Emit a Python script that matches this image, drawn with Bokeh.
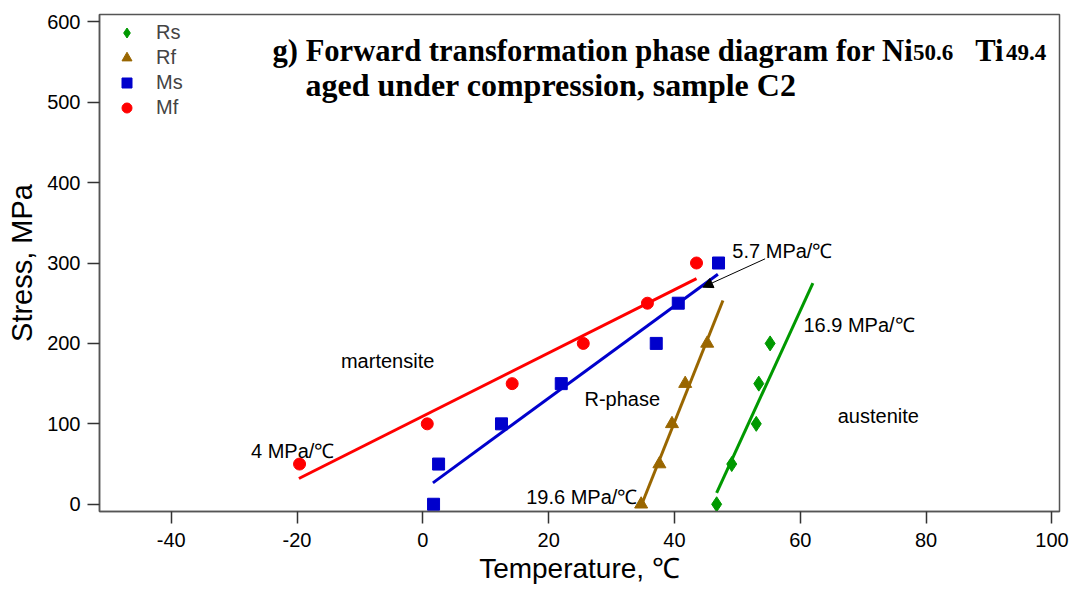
import math
from bokeh.plotting import figure
from bokeh.models import Range1d, Legend, LegendItem, Label, Arrow, NormalHead, FixedTicker
from bokeh.embed import file_html
from bokeh.resources import INLINE

# ---- data ----
rs_t = [46.7, 49.1, 53.0, 53.4, 55.2]
rs_s = [0, 50, 100, 150, 200]
rf_t = [34.7, 37.6, 39.6, 41.7, 45.2]
rf_s = [0, 50, 100, 150, 200]
ms_t = [1.7, 2.5, 12.5, 22.0, 37.1, 40.6, 47.0]
ms_s = [0, 50, 100, 150, 200, 250, 300]
mf_t = [-19.6, 0.7, 14.2, 25.5, 35.7, 43.5]
mf_s = [50, 100, 150, 200, 250, 300]

# linear fits (end points)
rs_fit_t = [46.7, 62.0]
rs_fit_s = [14.2, 274.9]
rf_fit_t = [34.8, 47.7]
rf_fit_s = [0.0, 253.4]
ms_fit_t = [1.6, 46.9]
ms_fit_s = [26.6, 286.0]
mf_fit_t = [-19.7, 43.5]
mf_fit_s = [32.0, 280.6]

x_ticks = [-40, -20, 0, 20, 40, 60, 80, 100]
y_ticks = [0, 100, 200, 300, 400, 500, 600]

GREEN = "#009900"
BROWN = "#996600"
BLUE = "#0000CC"
RED = "#FF0000"
SANS = "Liberation Sans"
SERIF = "Liberation Serif"

p = figure(width=1075, height=596, output_backend="svg", toolbar_location=None,
           x_range=Range1d(-51.4, 101.2), y_range=Range1d(-9, 609),
           min_border_left=99, min_border_right=16, min_border_top=14, min_border_bottom=85)
p.grid.visible = False
p.outline_line_color = "#555555"
p.outline_line_width = 1.5
p.background_fill_color = "white"
p.border_fill_color = "white"

for ax in (p.xaxis[0], p.yaxis[0]):
    ax.axis_line_color = "#555555"
    ax.axis_line_width = 1.5
    ax.major_tick_line_color = "#333333"
    ax.major_tick_line_width = 1.5
    ax.major_tick_in = 0
    ax.major_tick_out = 12
    ax.minor_tick_line_color = None
    ax.major_label_text_font = SANS
    ax.major_label_text_font_size = "20px"
    ax.major_label_text_color = "black"
    ax.axis_label_text_font = SANS
    ax.axis_label_text_font_style = "normal"
    ax.axis_label_text_color = "black"

p.xaxis.ticker = FixedTicker(ticks=x_ticks)
p.yaxis.ticker = FixedTicker(ticks=y_ticks)
p.xaxis.major_label_overrides = {t: str(t) for t in x_ticks}
p.xaxis.major_label_standoff = 9
p.yaxis.major_label_standoff = 7
p.xaxis.axis_label = "Temperature, \u2103"
p.yaxis.axis_label = "Stress, MPa"
p.xaxis.axis_label_text_font_size = "28px"
p.yaxis.axis_label_text_font_size = "29px"
p.xaxis.axis_label_standoff = 3
p.yaxis.axis_label_standoff = 6

# fit lines
p.line(mf_fit_t, mf_fit_s, line_color=RED, line_width=3)
p.line(ms_fit_t, ms_fit_s, line_color=BLUE, line_width=3)
p.line(rf_fit_t, rf_fit_s, line_color=BROWN, line_width=3)
p.line(rs_fit_t, rs_fit_s, line_color=GREEN, line_width=3)

# data points
r_rs = p.scatter(rs_t, rs_s, marker="diamond", size=15, fill_color=GREEN, line_color=GREEN)
r_rf = p.scatter(rf_t, rf_s, marker="triangle", size=13, fill_color=BROWN, line_color=BROWN)
r_ms = p.scatter(ms_t, ms_s, marker="square", size=12, fill_color=BLUE, line_color=BLUE)
r_mf = p.scatter(mf_t, mf_s, marker="circle", size=12, fill_color=RED, line_color=RED)

legend = Legend(items=[LegendItem(label="Rs", renderers=[r_rs]),
                       LegendItem(label="Rf", renderers=[r_rf]),
                       LegendItem(label="Ms", renderers=[r_ms]),
                       LegendItem(label="Mf", renderers=[r_mf])],
                location="top_left", border_line_color=None, background_fill_alpha=0,
                label_text_font=SANS, label_text_font_size="20px",
                glyph_width=43, glyph_height=25, label_height=20, spacing=0,
                padding=6, margin=6, label_standoff=8)
p.add_layout(legend)

# region / slope annotations
def note(x, y, txt, align="center", size="20px"):
    p.add_layout(Label(x=x, y=y, text=txt, text_font=SANS, text_font_size=size,
                       text_align=align, text_baseline="middle", text_color="black"))

note(-5.6, 178.7, "martensite")
note(31.7, 131.2, "R-phase")
note(72.4, 110.3, "austenite")
note(-20.7, 66.8, "4 MPa/\u2103")
note(34.1, 9.6, "19.6 MPa/\u2103", align="right")
note(49.2, 314.7, "5.7 MPa/\u2103", align="left")
note(60.5, 222.3, "16.9 MPa/\u2103", align="left")

p.add_layout(Arrow(end=NormalHead(size=10, fill_color="black", line_color="black"),
                   x_start=54.4, y_start=305.2, x_end=44.5, y_end=269.9,
                   line_color="black", line_width=1))

# title pieces
def tlabel(x, y, txt, size):
    p.add_layout(Label(x=x, y=y, text=txt, text_font=SERIF, text_font_size=size,
                       text_font_style="bold", text_align="left",
                       text_baseline="alphabetic", text_color="black"))

tlabel(-23.9, 563.6, "g) Forward transformation phase diagram for Ni", "30.6px")
tlabel(77.9, 562.0, "50.6", "23px")
tlabel(87.8, 563.6, "Ti", "30.6px")
tlabel(92.7, 562.0, "49.4", "23px")
tlabel(-18.65, 521.3, "aged under compression, sample C2", "32px")

open("out.html", "w").write(file_html(p, INLINE))
